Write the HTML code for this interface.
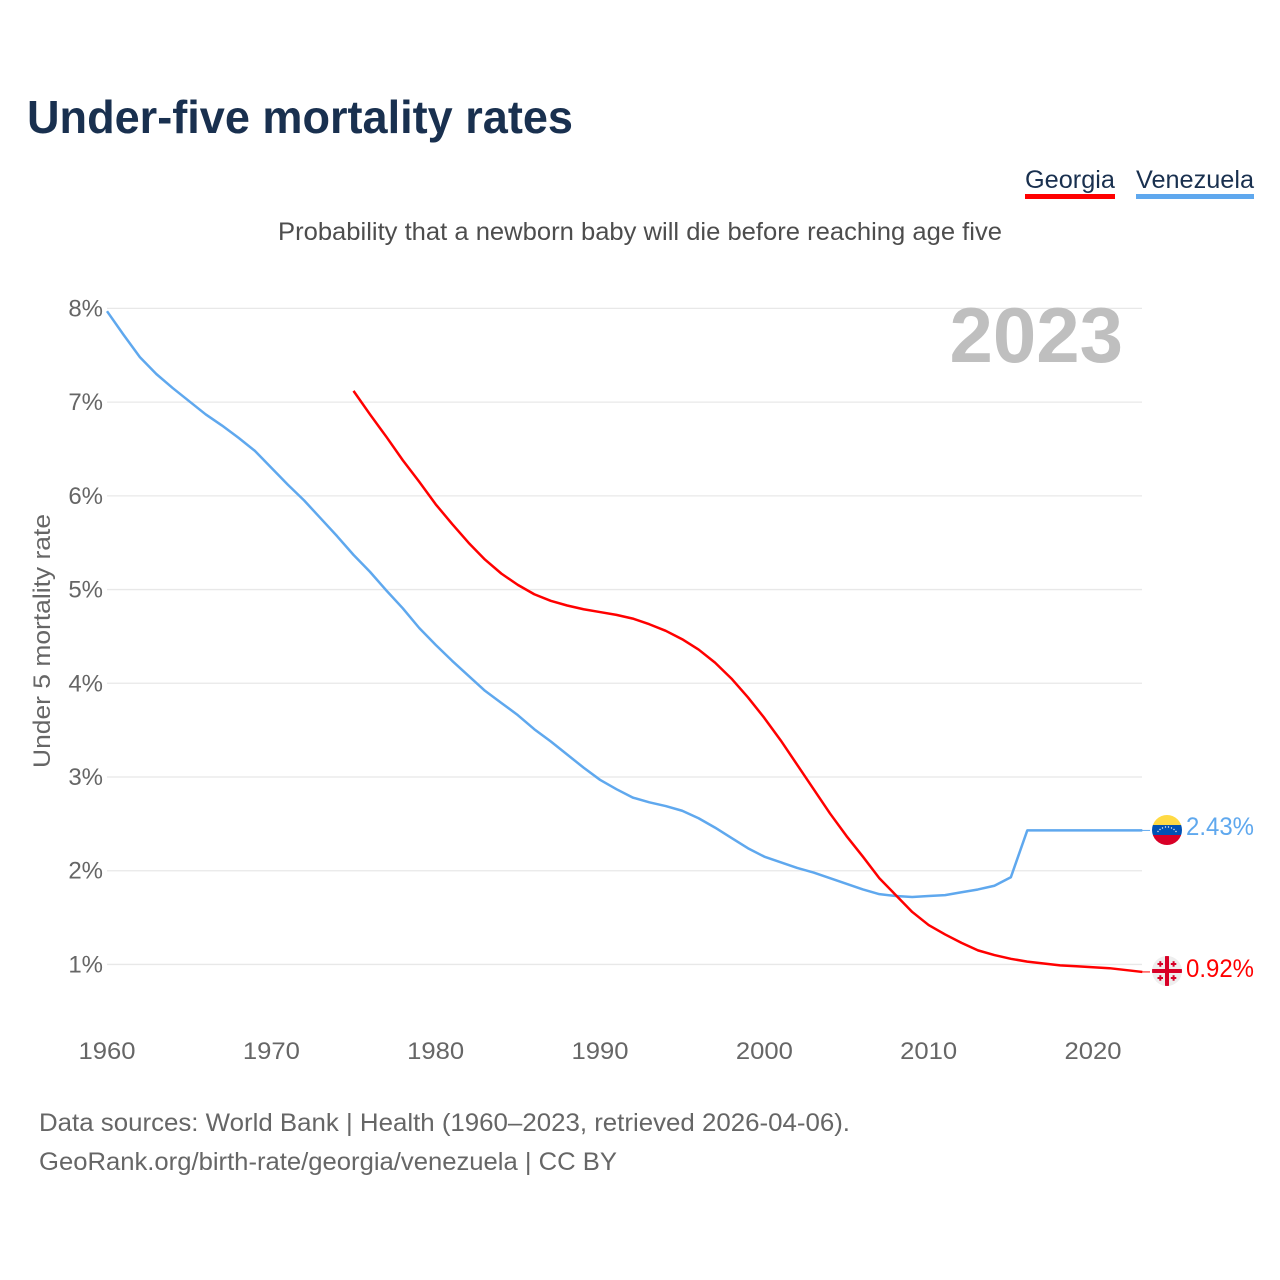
<!DOCTYPE html>
<html lang="en">
<head>
<meta charset="utf-8">
<title>Under-five mortality rates</title>
<style>
html,body{margin:0;padding:0;background:#fff;}
svg{display:block;font-family:"Liberation Sans",Arial,sans-serif;}
</style>
</head>
<body>
<svg id="chart" xmlns="http://www.w3.org/2000/svg" width="1280" height="1280" viewBox="0 0 1280 1280">
  <rect width="1280" height="1280" fill="#fff"/>
  <text x="27" y="133" font-size="46" font-weight="700" fill="#19304f" textLength="546" lengthAdjust="spacingAndGlyphs">Under-five mortality rates</text>

  <g>
    <text x="1025" y="188" font-size="25" fill="#19304f" textLength="90" lengthAdjust="spacingAndGlyphs">Georgia</text>
    <rect x="1025" y="194" width="90" height="5" fill="#ff0000"/>
  </g>
  <g>
    <text x="1136" y="188" font-size="25" fill="#19304f" textLength="118" lengthAdjust="spacingAndGlyphs">Venezuela</text>
    <rect x="1136" y="194" width="118" height="5" fill="#5fa8ee"/>
  </g>

  <text x="278" y="240" font-size="25" fill="#4d4d4d" textLength="724" lengthAdjust="spacingAndGlyphs">Probability that a newborn baby will die before reaching age five</text>

  <g id="grid"></g>
  <g id="yticks"></g>
  <g id="xticks"></g>

  <text transform="translate(50,641) rotate(-90)" text-anchor="middle" font-size="24" fill="#666" textLength="254" lengthAdjust="spacingAndGlyphs">Under 5 mortality rate</text>

  <text x="1123" y="362" text-anchor="end" font-size="78" font-weight="700" fill="#bfbfbf">2023</text>

  <g id="series"></g>

  <defs>
    <clipPath id="clip-ve"><circle cx="1167" cy="830" r="15"/></clipPath>
    <clipPath id="clip-ge"><circle cx="1167" cy="971" r="15"/></clipPath>
  </defs>

  <g clip-path="url(#clip-ve)">
    <rect x="1152" y="815" width="30" height="10" fill="#ffda44"/>
    <rect x="1152" y="825" width="30" height="10" fill="#0052b4"/>
    <rect x="1152" y="835" width="30" height="10" fill="#d80027"/>
    <g fill="#f0f0f0">
      <circle cx="1158" cy="831.500" r=".7"/><circle cx="1160" cy="829.500" r=".7"/><circle cx="1162.500" cy="828" r=".7"/>
      <circle cx="1165.500" cy="827" r=".7"/><circle cx="1168.500" cy="827" r=".7"/><circle cx="1171.500" cy="828" r=".7"/>
      <circle cx="1174" cy="829.500" r=".7"/><circle cx="1176" cy="831.500" r=".7"/>
    </g>
  </g>
  <g clip-path="url(#clip-ge)">
    <rect x="1152" y="956" width="30" height="30" fill="#eeeeee"/>
    <rect x="1165" y="956" width="4" height="30" fill="#d80027"/>
    <rect x="1152" y="969" width="30" height="4" fill="#d80027"/>
    <g fill="#d80027">
      <rect x="1157.500" y="963" width="5.500" height="2"/><rect x="1159.300" y="961.200" width="2" height="5.500"/>
      <rect x="1170.800" y="963" width="5.500" height="2"/><rect x="1172.600" y="961.200" width="2" height="5.500"/>
      <rect x="1157.500" y="977" width="5.500" height="2"/><rect x="1159.300" y="975.200" width="2" height="5.500"/>
      <rect x="1170.800" y="977" width="5.500" height="2"/><rect x="1172.600" y="975.200" width="2" height="5.500"/>
    </g>
  </g>

  <text id="label-ve" x="1186" y="835" font-size="25" fill="#5fa8ee" textLength="68" lengthAdjust="spacingAndGlyphs"></text>
  <text id="label-ge" x="1186" y="977" font-size="25" fill="#ff0000" textLength="68" lengthAdjust="spacingAndGlyphs"></text>

  <text x="39" y="1131" font-size="25" fill="#666" textLength="811" lengthAdjust="spacingAndGlyphs">Data sources: World Bank | Health (1960–2023, retrieved 2026-04-06).</text>
  <text x="39" y="1170" font-size="25" fill="#666" textLength="578" lengthAdjust="spacingAndGlyphs">GeoRank.org/birth-rate/georgia/venezuela | CC BY</text>
</svg>

<script>
const yTickValues = [1, 2, 3, 4, 5, 6, 7, 8];
const xTickValues = [1960, 1970, 1980, 1990, 2000, 2010, 2020];
const venezuelaStartYear = 1960;
const venezuelaValues = [
  7.97, 7.72, 7.48, 7.30, 7.15, 7.01, 6.87, 6.75, 6.62, 6.48,
  6.30, 6.12, 5.95, 5.76, 5.57, 5.37, 5.19, 4.99, 4.80, 4.59,
  4.41, 4.24, 4.08, 3.92, 3.79, 3.66, 3.51, 3.38, 3.24, 3.10,
  2.97, 2.87, 2.78, 2.73, 2.69, 2.64, 2.56, 2.46, 2.35, 2.24,
  2.15, 2.09, 2.03, 1.98, 1.92, 1.86, 1.80, 1.75, 1.73, 1.72,
  1.73, 1.74, 1.77, 1.80, 1.84, 1.93, 2.43, 2.43, 2.43, 2.43,
  2.43, 2.43, 2.43, 2.43
];
const georgiaStartYear = 1975;
const georgiaValues = [
  7.12, 6.87, 6.63, 6.38, 6.15, 5.91, 5.70, 5.50, 5.32, 5.17,
  5.05, 4.95, 4.88, 4.83, 4.79, 4.76, 4.73, 4.69, 4.63, 4.56,
  4.47, 4.36, 4.22, 4.05, 3.85, 3.63, 3.39, 3.13, 2.87, 2.61,
  2.37, 2.15, 1.92, 1.74, 1.56, 1.42, 1.32, 1.23, 1.15, 1.10,
  1.06, 1.03, 1.01, 0.99, 0.98, 0.97, 0.96, 0.94, 0.92
];

const NS = 'http://www.w3.org/2000/svg';
const xScale = function (year) { return 107 + (year - 1960) * (986 / 60); };
const yScale = function (v) { return 308.4 + (8 - v) * 93.72; };

function make(tag, parent) {
  const el = document.createElementNS(NS, tag);
  parent.appendChild(el);
  return el;
}

const grid = document.getElementById('grid');
const yticks = document.getElementById('yticks');
const xticks = document.getElementById('xticks');
const series = document.getElementById('series');

yTickValues.forEach(function (v) {
  const line = make('line', grid);
  
  
  line.setAttribute('x1', 107);
  line.setAttribute('x2', 1142);
  line.setAttribute('y1', yScale(v));
  line.setAttribute('y2', yScale(v));
  line.setAttribute('stroke', '#e8e8e8');
  line.setAttribute('stroke-width', '1.300');

  const t = make('text', yticks);
  
  
  t.setAttribute('x', 103);
  t.setAttribute('y', yScale(v) + 8);
  t.setAttribute('text-anchor', 'end');
  t.setAttribute('font-size', '24');
  t.setAttribute('fill', '#666');
  t.textContent = v + '%';
});

xTickValues.forEach(function (yr) {
  const t = make('text', xticks);
  
  
  t.setAttribute('x', xScale(yr));
  t.setAttribute('y', 1059);
  t.setAttribute('text-anchor', 'middle');
  t.setAttribute('font-size', '24');
  t.setAttribute('fill', '#666');
  t.setAttribute('textLength', '57');
  t.setAttribute('lengthAdjust', 'spacingAndGlyphs');
  t.textContent = yr;
});

function pointsFor(values, startYear) {
  return values.map(function (v, i) {
    return xScale(startYear + i).toFixed(2) + ',' + yScale(v).toFixed(2);
  }).join(' ');
}

const veLine = make('polyline', series);


veLine.setAttribute('points', pointsFor(venezuelaValues, venezuelaStartYear));
veLine.setAttribute('fill', 'none');
veLine.setAttribute('stroke', '#5fa8ee');
veLine.setAttribute('stroke-width', '2.500');
veLine.setAttribute('stroke-linejoin', 'round');

const geLine = make('polyline', series);


geLine.setAttribute('points', pointsFor(georgiaValues, georgiaStartYear));
geLine.setAttribute('fill', 'none');
geLine.setAttribute('stroke', '#ff0000');
geLine.setAttribute('stroke-width', '2.500');
geLine.setAttribute('stroke-linejoin', 'round');

const veLast = venezuelaValues[venezuelaValues.length - 1];
const geLast = georgiaValues[georgiaValues.length - 1];

const veConn = make('line', series);


veConn.setAttribute('x1', 1142);
veConn.setAttribute('x2', 1150);
veConn.setAttribute('y1', yScale(veLast));
veConn.setAttribute('y2', yScale(veLast));
veConn.setAttribute('stroke', '#5fa8ee');
veConn.setAttribute('stroke-width', '1');

const geConn = make('line', series);


geConn.setAttribute('x1', 1142);
geConn.setAttribute('x2', 1150);
geConn.setAttribute('y1', yScale(geLast));
geConn.setAttribute('y2', yScale(geLast));
geConn.setAttribute('stroke', '#ff0000');
geConn.setAttribute('stroke-width', '1');

document.getElementById('label-ve').textContent = veLast.toFixed(2) + '%';
document.getElementById('label-ge').textContent = geLast.toFixed(2) + '%';
</script>
</body>
</html>
